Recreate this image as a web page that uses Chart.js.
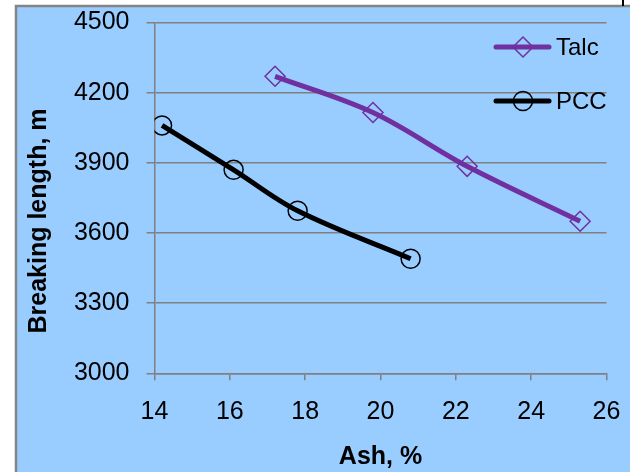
<!DOCTYPE html>
<html>
<head>
<meta charset="utf-8">
<script src="https://cdn.jsdelivr.net/npm/chart.js@4"></script>
<style>
  body { margin: 0; background: #fff; }
  canvas { display: block; }
</style>
</head>
<body>
<canvas id="myChart" width="630" height="472"></canvas>
<script>
// data
const ashTalc = [17.2, 19.8, 22.3, 25.3];
const lengthTalc = [4270, 4115, 3885, 3650];
const ashPcc = [14.2, 16.1, 17.8, 20.8];
const lengthPcc = [4060, 3870, 3695, 3490];
const seriesNames = ['Talc', 'PCC'];
const xTitle = 'Ash, %';
const yTitle = 'Breaking length, m';

const toPoints = (xs, ys) => xs.map((x, i) => ({ x: x, y: ys[i] }));

const fontName = "'Liberation Sans', Arial, sans-serif";

// blue panel with grey edge behind everything
const panel = {
    id: 'panel',
    beforeDraw(chart) {
        const c = chart.ctx;
        c.save();
        c.fillStyle = '#99CCFF';
        c.fillRect(16, 6, chart.width - 16, chart.height - 6);
        c.strokeStyle = '#858585';
        c.lineWidth = 2.5;
        c.beginPath();
        c.moveTo(16, chart.height);
        c.lineTo(16, 6);
        c.lineTo(chart.width, 6);
        c.stroke();
        c.strokeStyle = '#000';
        c.lineWidth = 2;
        c.beginPath();
        c.moveTo(623, 0);
        c.lineTo(623, 6);
        c.stroke();
        c.restore();
    }
};

// y title and legend drawn by hand
const extras = {
    id: 'extras',
    afterDraw(chart) {
        const c = chart.ctx;
        c.save();
        c.fillStyle = '#000';
        c.font = 'bold 25px ' + fontName;
        c.textAlign = 'center';
        c.textBaseline = 'middle';
        c.translate(39, 221);
        c.rotate(-Math.PI / 2);
        c.fillText(yTitle, 0, 0);
        c.restore();

        chart.data.datasets.forEach((ds, i) => {
            const y = 47 + i * 54;
            c.save();
            c.strokeStyle = ds.borderColor;
            c.lineWidth = ds.borderWidth;
            c.lineCap = 'round';
            c.beginPath();
            c.moveTo(496, y);
            c.lineTo(549, y);
            c.stroke();
            c.strokeStyle = ds.pointBorderColor;
            c.fillStyle = 'rgba(0,0,0,0)';
            c.lineWidth = ds.pointBorderWidth;
            Chart.helpers.drawPoint(c, {
                pointStyle: ds.pointStyle,
                radius: ds.pointRadius,
                borderWidth: ds.pointBorderWidth,
                rotation: 0
            }, 523, y);
            c.fillStyle = '#000';
            c.font = '24px ' + fontName;
            c.textAlign = 'left';
            c.textBaseline = 'middle';
            c.fillText(ds.label, 556, y + 1);
            c.restore();
        });
    }
};

new Chart(document.getElementById('myChart'), {
    type: 'line',
    data: {
        datasets: [{
            label: seriesNames[0],
            data: toPoints(ashTalc, lengthTalc),
            borderColor: '#7030A0',
            borderWidth: 5,
            tension: 0.35,
            pointStyle: 'rectRot',
            pointRadius: 10,
            pointBorderColor: '#7030A0',
            pointBorderWidth: 1.5,
            pointBackgroundColor: 'rgba(0,0,0,0)'
        }, {
            label: seriesNames[1],
            data: toPoints(ashPcc, lengthPcc),
            borderColor: '#000000',
            borderWidth: 5,
            tension: 0.35,
            pointStyle: 'circle',
            pointRadius: 9.5,
            pointBorderColor: '#000000',
            pointBorderWidth: 1.5,
            pointBackgroundColor: 'rgba(0,0,0,0)'
        }]
    },
    options: {
        responsive: false,
        animation: false,
        layout: {
            padding: { top: 22.5, right: 23.5, left: 0, bottom: 0 }
        },
        plugins: {
            legend: { display: false },
            tooltip: { enabled: false }
        },
        scales: {
            x: {
                type: 'linear',
                min: 14,
                max: 26,
                ticks: {
                    stepSize: 2,
                    color: '#000',
                    padding: 17,
                    font: { family: fontName, size: 25 },
                    callback: (v) => String(v)
                },
                grid: {
                    drawOnChartArea: false,
                    color: '#808080',
                    lineWidth: 1.5,
                    tickLength: 7
                },
                border: { color: '#808080', width: 1.5 },
                title: {
                    display: true,
                    text: xTitle,
                    color: '#000',
                    font: { family: fontName, size: 25, weight: 'bold' },
                    padding: { top: 0, bottom: 0 }
                },
                afterFit(scale) {
                    scale.height = 98.7;
                    scale.paddingLeft = 0;
                    scale.paddingRight = 0;
                }
            },
            y: {
                min: 3000,
                max: 4500,
                ticks: {
                    stepSize: 300,
                    color: '#000',
                    padding: 17,
                    font: { family: fontName, size: 25 },
                    callback: (v) => String(v)
                },
                grid: {
                    color: '#808080',
                    lineWidth: 1.5,
                    tickLength: 8
                },
                border: { color: '#808080', width: 1.5 },
                afterFit(scale) {
                    scale.width = 154.5;
                    scale.paddingTop = 0;
                    scale.paddingBottom = 0;
                }
            }
        }
    },
    plugins: [panel, extras]
});
</script>
</body>
</html>
